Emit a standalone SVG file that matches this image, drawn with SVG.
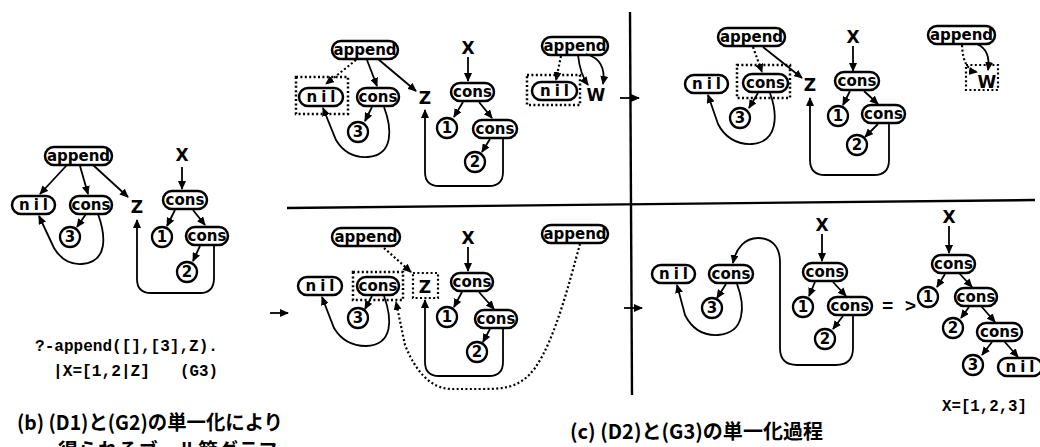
<svg xmlns="http://www.w3.org/2000/svg" width="1040" height="447" viewBox="0 0 1040 447">
  <defs>
    <marker id="ah" markerUnits="userSpaceOnUse" markerWidth="9" markerHeight="8" refX="8" refY="4" orient="auto">
      <path d="M0,0 L9,4 L0,8 z" fill="#000"/>
    </marker>
    <style>
      .n rect { fill: #fff; stroke: #000; stroke-width: 2.5; }
      .n circle { fill: #fff; stroke: #000; stroke-width: 2.3; }
      .n text { font-family: "DejaVu Sans", sans-serif; font-weight: bold; font-size: 15px; text-anchor: middle; fill: #000; }
      .nil { letter-spacing: 4px; }
      .v { font-family: "DejaVu Sans", sans-serif; font-weight: bold; font-size: 17px; text-anchor: middle; fill: #000; }
      .e { fill: none; stroke: #000; stroke-width: 1.8; marker-end: url(#ah); }
      .d { fill: none; stroke: #000; stroke-width: 2.2; stroke-dasharray: 2 2.4; }
      .da { marker-end: url(#ah); }
      .box { fill: none; stroke: #000; stroke-width: 2.2; stroke-dasharray: 2 2.4; }
      .rule { stroke: #000; stroke-width: 2.4; fill: none; }
      .code { font-family: "Liberation Mono", monospace; font-weight: bold; font-size: 17px; fill: #000; }
      .cap { font-family: "Noto Sans CJK JP", sans-serif; font-weight: bold; font-size: 20px; fill: #000; }
    </style>
  </defs>

  <!-- panel dividers and step arrows -->
  <g id="frame">
    <path class="rule" d="M287,208 L1035,200"/>
    <path class="rule" d="M630,12 L632,395"/>
    <path class="e" d="M270,313 L288,313"/>
    <path class="e" d="M620,98 L639,98"/>
    <path class="e" d="M624,308 L642,308"/>
  </g>

  <!-- ===== (b) goal graph ===== -->
  <g id="b-append" class="n"><rect x="45" y="147" width="67" height="18" rx="9"/><text x="78.5" y="161">append</text></g>
  <g id="b-nil" class="n"><rect x="12" y="196" width="43" height="18" rx="9"/><text class="nil" x="35.5" y="210">nil</text></g>
  <g id="b-cons" class="n"><rect x="70" y="196" width="42" height="18" rx="9"/><text x="91" y="210">cons</text></g>
  <g id="b-3" class="n"><circle cx="70" cy="237" r="10"/><text x="70" y="242">3</text></g>
  <g id="b-Z"><text class="v" x="137" y="213">Z</text></g>
  <g id="b-X"><text class="v" x="182" y="161">X</text></g>
  <g id="b-cons1" class="n"><rect x="163" y="191" width="44" height="18" rx="9"/><text x="185" y="205">cons</text></g>
  <g id="b-1" class="n"><circle cx="162" cy="237" r="10"/><text x="162" y="242">1</text></g>
  <g id="b-cons2" class="n"><rect x="186" y="227" width="42" height="18" rx="9"/><text x="207" y="241">cons</text></g>
  <g id="b-2" class="n"><circle cx="187" cy="272" r="10"/><text x="187" y="277">2</text></g>
  <g id="b-edges">
    <path class="e" d="M67,165 L40,194"/>
    <path class="e" d="M80,166 L88,194"/>
    <path class="e" d="M93,165 L128,197"/>
    <path class="e" d="M86,214 L77,227"/>
    <path class="e" d="M98,214 C106,236 108,262 82,264 C68,265 60,258 54,248 L39,216"/>
    <path class="e" d="M182,167 L182,189"/>
    <path class="e" d="M175,210 L167,226"/>
    <path class="e" d="M193,210 L205,225"/>
    <path class="e" d="M200,246 L193,261"/>
    <path class="e" d="M214,245 L214,278 Q214,293 200,293 L151,293 Q137,293 137,279 L137,220"/>
  </g>
  <g id="b-text">
    <text class="code" x="35" y="351" textLength="183" lengthAdjust="spacingAndGlyphs">?-append([],[3],Z).</text>
    <text class="code" x="53" y="376" textLength="97" lengthAdjust="spacingAndGlyphs">|X=[1,2|Z]</text>
    <text class="code" x="180" y="376" textLength="38" lengthAdjust="spacingAndGlyphs">(G3)</text>
    <text class="cap" x="17" y="430" textLength="266" lengthAdjust="spacingAndGlyphs">(b) (D1)と(G2)の単一化により</text>
    <text class="cap" x="58" y="458">得られるゴール節グラフ</text>
  </g>

  <!-- ===== (c) step 1 ===== -->
  <g id="c1-append" class="n"><rect x="332" y="41" width="66" height="18" rx="9"/><text x="365" y="55">append</text></g>
  <g id="c1-nil" class="n"><rect class="box" x="296" y="77" width="52" height="37" rx="0"/><rect x="299" y="88" width="44" height="18" rx="9"/><text class="nil" x="323" y="102">nil</text></g>
  <g id="c1-cons" class="n"><rect x="357" y="88" width="42" height="18" rx="9"/><text x="378" y="102">cons</text></g>
  <g id="c1-3" class="n"><circle cx="358" cy="132" r="10"/><text x="358" y="137">3</text></g>
  <g id="c1-Z"><text class="v" x="425" y="104">Z</text></g>
  <g id="c1-X"><text class="v" x="468" y="54">X</text></g>
  <g id="c1-cons1" class="n"><rect x="451" y="83" width="43" height="18" rx="9"/><text x="472.5" y="97">cons</text></g>
  <g id="c1-1" class="n"><circle cx="447" cy="128" r="10"/><text x="447" y="133">1</text></g>
  <g id="c1-cons2" class="n"><rect x="473" y="120" width="44" height="18" rx="9"/><text x="495" y="134">cons</text></g>
  <g id="c1-2" class="n"><circle cx="475" cy="162" r="10"/><text x="475" y="167">2</text></g>
  <g id="c1-append2" class="n"><rect x="542" y="37" width="66" height="18" rx="9"/><text x="575" y="51">append</text></g>
  <g id="c1-nil2" class="n"><rect class="box" x="527" y="75" width="53" height="30" rx="0"/><rect x="532" y="82" width="45" height="18" rx="9"/><text class="nil" x="556.5" y="96">nil</text></g>
  <g id="c1-W"><text class="v" x="596" y="101">W</text></g>
  <g id="c1-edges">
    <path class="d da" d="M356,60 L326,84"/>
    <path class="e" d="M367,60 L377,86"/>
    <path class="e" d="M378,59 L416,91"/>
    <path class="e" d="M372,107 L365,121"/>
    <path class="e" d="M384,107 C392,128 394,155 368,157 C352,158 342,150 336,140 L323,108"/>
    <path class="e" d="M468,57 L468,81"/>
    <path class="e" d="M463,102 L454,117"/>
    <path class="e" d="M479,102 L492,118"/>
    <path class="e" d="M490,139 L482,152"/>
    <path class="e" d="M503,138 L503,172 Q503,186 489,186 L439,186 Q425,186 425,172 L425,110"/>
    <path class="d da" d="M561,56 L556,80"/>
    <path class="e" d="M578,55 Q580,74 588,85"/>
    <path class="e" d="M586,54 Q607,60 603,84"/>
  </g>

  <!-- ===== (c) step 2 ===== -->
  <g id="c2-append" class="n"><rect x="718" y="28" width="67" height="18" rx="9"/><text x="751.5" y="42">append</text></g>
  <g id="c2-nil" class="n"><rect x="685" y="75" width="43" height="18" rx="9"/><text class="nil" x="708.5" y="89">nil</text></g>
  <g id="c2-cons" class="n"><rect class="box" x="737" y="65" width="53" height="33" rx="0"/><rect x="743" y="74" width="45" height="18" rx="9"/><text x="765.5" y="88">cons</text></g>
  <g id="c2-3" class="n"><circle cx="740" cy="118" r="10"/><text x="740" y="123">3</text></g>
  <g id="c2-Z"><text class="v" x="810" y="91">Z</text></g>
  <g id="c2-X"><text class="v" x="853" y="43">X</text></g>
  <g id="c2-cons1" class="n"><rect x="835" y="72" width="44" height="18" rx="9"/><text x="857" y="86">cons</text></g>
  <g id="c2-1" class="n"><circle cx="838" cy="116" r="10"/><text x="838" y="121">1</text></g>
  <g id="c2-cons2" class="n"><rect x="862" y="105" width="43" height="18" rx="9"/><text x="883.5" y="119">cons</text></g>
  <g id="c2-2" class="n"><circle cx="857" cy="145" r="10"/><text x="857" y="150">2</text></g>
  <g id="c2-append2" class="n"><rect x="928" y="26" width="67" height="18" rx="9"/><text x="961.5" y="40">append</text></g>
  <g id="c2-W"><rect class="box" x="966" y="65" width="32" height="25"/><text class="v" x="987" y="88">W</text></g>
  <g id="c2-edges">
    <path class="d da" d="M753,47 L762,72"/>
    <path class="e" d="M763,47 L802,78"/>
    <path class="e" d="M758,93 L749,108"/>
    <path class="e" d="M770,93 C778,115 778,142 752,144 C736,145 724,136 718,124 L708,95"/>
    <path class="e" d="M853,46 L853,71"/>
    <path class="e" d="M850,91 L843,105"/>
    <path class="e" d="M864,91 L878,104"/>
    <path class="e" d="M878,124 L865,137"/>
    <path class="e" d="M889,123 L889,160 Q889,175 874,175 L825,175 Q810,175 810,160 L810,98"/>
    <path class="d da" d="M962,45 Q963,70 977,72"/>
    <path class="e" d="M977,44 Q991,50 988,70"/>
  </g>

  <!-- ===== (c) step 3 ===== -->
  <g id="c3-append" class="n"><rect x="332" y="228" width="68" height="18" rx="9"/><text x="366" y="242">append</text></g>
  <g id="c3-nil" class="n"><rect x="298" y="277" width="44" height="18" rx="9"/><text class="nil" x="322" y="291">nil</text></g>
  <g id="c3-cons" class="n"><rect class="box" x="353" y="272" width="50" height="28"/><rect x="357" y="277" width="42" height="18" rx="9"/><text x="378" y="291">cons</text></g>
  <g id="c3-3" class="n"><circle cx="358" cy="318" r="10"/><text x="358" y="323">3</text></g>
  <g id="c3-Z"><rect class="box" x="413" y="273" width="25" height="25"/><text class="v" x="425" y="293">Z</text></g>
  <g id="c3-X"><text class="v" x="468" y="244">X</text></g>
  <g id="c3-cons1" class="n"><rect x="451" y="273" width="42" height="18" rx="9"/><text x="472" y="287">cons</text></g>
  <g id="c3-1" class="n"><circle cx="447" cy="317" r="10"/><text x="447" y="322">1</text></g>
  <g id="c3-cons2" class="n"><rect x="475" y="310" width="42" height="18" rx="9"/><text x="496" y="324">cons</text></g>
  <g id="c3-2" class="n"><circle cx="477" cy="352" r="10"/><text x="477" y="357">2</text></g>
  <g id="c3-append2" class="n"><rect x="542" y="225" width="66" height="18" rx="9"/><text x="575" y="239">append</text></g>
  <g id="c3-edges">
    <path class="d da" d="M384,248 L411,272"/>
    <path class="e" d="M372,296 L365,309"/>
    <path class="e" d="M384,296 C392,318 394,345 366,346 C350,346 340,338 334,328 L322,297"/>
    <path class="e" d="M468,247 L468,271"/>
    <path class="e" d="M462,292 L454,307"/>
    <path class="e" d="M479,292 L494,309"/>
    <path class="e" d="M490,329 L483,342"/>
    <path class="e" d="M503,328 L503,362 Q503,376 489,376 L439,376 Q425,376 425,362 L425,300"/>
    <path class="d da" d="M580,244 C570,280 555,340 535,368 C520,388 505,389 480,389 L452,389 C430,389 415,370 405,345 L396,302"/>
  </g>

  <!-- ===== (c) result ===== -->
  <g id="c4-nil" class="n"><rect x="652" y="265" width="43" height="18" rx="9"/><text class="nil" x="675.5" y="279">nil</text></g>
  <g id="c4-cons" class="n"><rect x="709" y="265" width="44" height="18" rx="9"/><text x="731" y="279">cons</text></g>
  <g id="c4-3" class="n"><circle cx="712" cy="308" r="10"/><text x="712" y="313">3</text></g>
  <g id="c4-X"><text class="v" x="822" y="231">X</text></g>
  <g id="c4-cons1" class="n"><rect x="803" y="263" width="44" height="18" rx="9"/><text x="825" y="277">cons</text></g>
  <g id="c4-1" class="n"><circle cx="803" cy="307" r="10"/><text x="803" y="312">1</text></g>
  <g id="c4-cons2" class="n"><rect x="828" y="297" width="44" height="18" rx="9"/><text x="850" y="311">cons</text></g>
  <g id="c4-2" class="n"><circle cx="825" cy="339" r="10"/><text x="825" y="344">2</text></g>
  <g id="c4-edges">
    <path class="e" d="M726,284 L717,298"/>
    <path class="e" d="M737,284 C745,305 746,333 718,335 C700,336 690,325 685,315 L677,285"/>
    <path class="e" d="M822,234 L822,261"/>
    <path class="e" d="M815,282 L809,296"/>
    <path class="e" d="M833,282 L846,296"/>
    <path class="e" d="M843,316 L833,329"/>
    <path class="e" d="M853,316 L853,348 Q853,365 836,365 L797,365 Q780,365 780,348 L780,262 C780,245 770,238 758,238 C745,238 736,248 733,263"/>
  </g>
  <g id="eq"><text class="code" x="882" y="312" style="font-size:19px">= &gt;</text></g>

  <!-- final list -->
  <g id="f-X"><text class="v" x="949" y="223">X</text></g>
  <g id="f-cons1" class="n"><rect x="932" y="255" width="43" height="18" rx="9"/><text x="953.5" y="269">cons</text></g>
  <g id="f-1" class="n"><circle cx="928" cy="297" r="10"/><text x="928" y="302">1</text></g>
  <g id="f-cons2" class="n"><rect x="955" y="288" width="42" height="18" rx="9"/><text x="976" y="302">cons</text></g>
  <g id="f-2" class="n"><circle cx="953" cy="328" r="10"/><text x="953" y="333">2</text></g>
  <g id="f-cons3" class="n"><rect x="977" y="323" width="45" height="18" rx="9"/><text x="999.5" y="337">cons</text></g>
  <g id="f-3" class="n"><circle cx="973" cy="365" r="10"/><text x="973" y="370">3</text></g>
  <g id="f-nil" class="n"><rect x="998" y="358" width="44" height="18" rx="9"/><text class="nil" x="1022" y="372">nil</text></g>
  <g id="f-edges">
    <path class="e" d="M949,226 L949,253"/>
    <path class="e" d="M945,274 L937,287"/>
    <path class="e" d="M959,273 L972,287"/>
    <path class="e" d="M969,307 L961,318"/>
    <path class="e" d="M981,306 L995,322"/>
    <path class="e" d="M992,342 L982,355"/>
    <path class="e" d="M1004,341 L1018,357"/>
  </g>
  <g id="c-text">
    <text class="code" x="942" y="411" textLength="85" lengthAdjust="spacingAndGlyphs">X=[1,2,3]</text>
    <text class="cap" x="570" y="439" textLength="253" lengthAdjust="spacingAndGlyphs">(c) (D2)と(G3)の単一化過程</text>
  </g>
</svg>
